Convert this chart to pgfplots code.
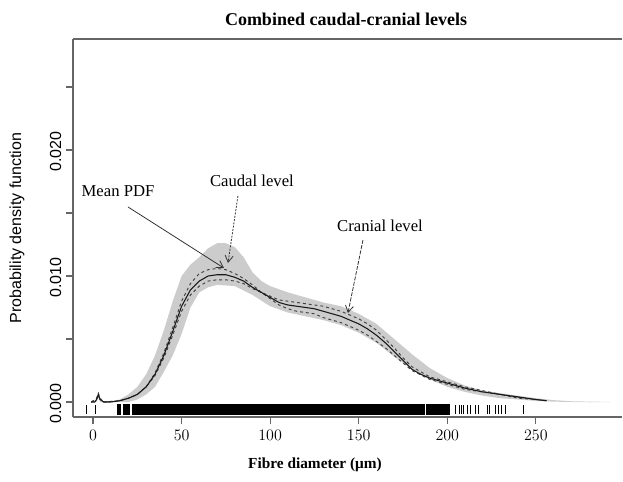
\documentclass[border=0pt]{standalone}
\usepackage{fontspec}
\setmainfont{Liberation Serif}
\newfontfamily\arial{Liberation Sans}
\usepackage{pgfplots}
\pgfplotsset{compat=1.18}
\usetikzlibrary{arrows.meta}
\definecolor{bandgray}{gray}{0.80}
\definecolor{axgray}{gray}{0.40}
\begin{document}
\begin{tikzpicture}
\path (0,0) rectangle (467.25pt,360.75pt);
\begin{axis}[
  at={(54.75pt,48pt)}, anchor=south west,
  scale only axis, width=412pt, height=283.5pt,
  xmin=-11.3, xmax=298.8, ymin=-0.00119, ymax=0.02881,
  axis x line=box, axis y line=left,
  axis line style={axgray, line width=0.8pt, -},
  tick style={axgray, line width=0.8pt},
  tick align=outside, major tick length=5.25pt,
  xtick pos=bottom, ytick pos=left,
  xtick={0,50,100,150,200,250},
  ytick={0,0.005,0.010,0.015,0.020,0.025},
  yticklabels={0.000,,0.010,,0.020,},
  scaled y ticks=false,
  ticklabel style={font=\arial\fontsize{12}{14}\selectfont},
  yticklabel style={rotate=90, anchor=south, xshift=-1pt},
  xticklabel style={yshift=-1pt},
  clip=false,
]
% band (upper then lower reversed)
\addplot[fill=bandgray, draw=none, forget plot] coordinates {
(-1,0) (2,0.0002) (3,0.0008) (4,0.0002) (6,0) (12,0.0001) (15,0.0002) (20,0.0006) (25,0.0012) (30,0.0022) (35,0.0037) (40,0.0057) (45,0.0080) (50,0.0100) (55,0.0109) (60,0.0115) (65,0.0122) (70,0.0126) (75,0.0126) (80,0.0123) (85,0.0115) (90,0.0103) (95,0.0096) (100,0.0092) (110,0.0087) (120,0.0083) (130,0.0079) (140,0.0076) (150,0.0070) (160,0.0062) (170,0.0050) (180,0.0038) (190,0.0027) (200,0.0019) (210,0.0013) (220,0.0009) (230,0.0007) (240,0.0005) (250,0.0003) (260,0.00015) (270,0.00006) (280,0.00003) (292,0.00001)
(292,-0.00001) (280,-0.00002) (270,0) (260,0.00003) (250,0.00008) (240,0.0002) (230,0.0003) (220,0.0005) (210,0.0008) (200,0.0012) (190,0.0018) (180,0.0026) (170,0.0036) (160,0.0047) (150,0.0055) (140,0.0061) (130,0.0065) (120,0.0068) (110,0.0071) (100,0.0076) (90,0.0085) (80,0.0092) (70,0.0093) (65,0.0091) (60,0.0087) (55,0.0075) (50,0.0054) (45,0.0037) (40,0.0024) (35,0.0012) (30,0.0006) (25,0.0002) (20,0) (6,0) (4,0) (3,0.0004) (2,0) (-1,0)} -- cycle;
% caudal (dashed)
\addplot[black!75, line width=0.7pt, dash pattern=on 2.2pt off 2.2pt] coordinates {
(-1,0) (2,0.0002) (3,0.0005) (4,0.0002) (6,0) (15,0.0001) (20,0.0003) (25,0.0006) (30,0.0012) (35,0.0023) (40,0.0039) (45,0.0059) (50,0.0080) (55,0.0094) (60,0.0102) (65,0.0105) (70,0.0106) (75,0.0105) (80,0.0102) (85,0.0098) (90,0.0093) (95,0.0087) (100,0.0082) (105,0.0077) (110,0.0074) (115,0.0072) (120,0.0071) (125,0.0070) (130,0.0067) (135,0.0065) (140,0.0063) (145,0.0060) (150,0.0057) (155,0.0053) (160,0.0048) (165,0.0043) (170,0.0037) (175,0.0031) (180,0.0025) (190,0.0018) (200,0.0014) (210,0.0010) (220,0.0008) (230,0.0006) (240,0.0003) (250,0.0002) (256,0.0001)};
% cranial (dashed)
\addplot[black!75, line width=0.7pt, dash pattern=on 2.2pt off 2.2pt] coordinates {
(-1,0) (2,0.0003) (3,0.0007) (4,0.0003) (6,0) (15,0.0001) (20,0.0003) (25,0.0006) (30,0.0012) (35,0.0021) (40,0.0035) (45,0.0053) (50,0.0072) (55,0.0085) (60,0.0092) (65,0.0096) (70,0.0097) (75,0.0097) (80,0.0096) (85,0.0094) (90,0.0090) (95,0.0087) (100,0.0084) (105,0.0081) (110,0.0080) (115,0.0079) (120,0.0078) (125,0.0077) (130,0.0076) (135,0.0074) (140,0.0072) (145,0.0069) (150,0.0066) (155,0.0062) (160,0.0057) (165,0.0050) (170,0.0043) (175,0.0035) (180,0.0028) (190,0.0020) (200,0.0016) (210,0.0012) (220,0.0009) (230,0.0006) (240,0.0004) (250,0.0002) (256,0.0001)};
% mean (solid)
\addplot[black!90, line width=0.8pt] coordinates {
(-1,0) (1,0) (2,0.0002) (3,0.0006) (4,0.0002) (5,0.0001) (6,0) (10,0) (15,0.0001) (20,0.0003) (25,0.0006) (30,0.0012) (35,0.0022) (40,0.0037) (45,0.0056) (50,0.0076) (55,0.0089) (60,0.0096) (65,0.0100) (70,0.0101) (75,0.0101) (80,0.0099) (85,0.0096) (90,0.0091) (95,0.0087) (100,0.0083) (105,0.0079) (110,0.0077) (115,0.0076) (120,0.0075) (125,0.0074) (130,0.0072) (135,0.0070) (140,0.0068) (145,0.0065) (150,0.0062) (155,0.0058) (160,0.0053) (165,0.0047) (170,0.0040) (175,0.0033) (180,0.0026) (185,0.0022) (190,0.0019) (200,0.0015) (210,0.0011) (220,0.0008) (230,0.0006) (240,0.0004) (250,0.0002) (256,0.0001)};
% rug: dense blocks
\addplot[fill=black, draw=none] coordinates {(13.4,-0.00016) (15.9,-0.00016) (15.9,-0.00103) (13.4,-0.00103)} -- cycle;
\addplot[fill=black, draw=none] coordinates {(16.8,-0.00016) (20.9,-0.00016) (20.9,-0.00103) (16.8,-0.00103)} -- cycle;
\addplot[fill=black, draw=none] coordinates {(21.8,-0.00016) (187.4,-0.00016) (187.4,-0.00103) (21.8,-0.00103)} -- cycle;
\addplot[fill=black, draw=none] coordinates {(188.2,-0.00016) (201.5,-0.00016) (201.5,-0.00103) (188.2,-0.00103)} -- cycle;
% rug: isolated ticks
\addplot[only marks, mark=|, mark size=3.3pt, mark options={black, line width=0.6pt}] coordinates {
(-3.6,-0.000595) (1.5,-0.000595) (204.3,-0.000595) (207.1,-0.000595) (208,-0.000595) (209,-0.000595) (211.3,-0.000595) (213.2,-0.000595) (215.6,-0.000595) (217.5,-0.000595) (222.5,-0.000595) (224,-0.000595) (226.9,-0.000595) (228.8,-0.000595) (230.7,-0.000595) (233,-0.000595) (243.2,-0.000595)};
% annotations
\node[font=\fontsize{12.5}{14}\selectfont] at (axis cs:14.1,0.01675) {Mean PDF};
\node[font=\fontsize{12.5}{14}\selectfont] at (axis cs:89.7,0.01754) {Caudal level};
\node[font=\fontsize{12.5}{14}\selectfont] at (axis cs:162,0.01397) {Cranial level};
\draw[black!80, line width=0.6pt, -{Straight Barb[length=5pt,width=6pt]}] (axis cs:19.75,0.01548) -- (axis cs:73.9,0.01063);
\draw[black!80, line width=0.6pt, dash pattern=on 1.5pt off 1pt, -{Straight Barb[length=5pt,width=6pt]}] (axis cs:81.8,0.01635) -- (axis cs:76.2,0.01103);
\draw[black!80, line width=0.6pt, dash pattern=on 3pt off 1pt, -{Straight Barb[length=5pt,width=6pt]}] (axis cs:152.4,0.01286) -- (axis cs:143.9,0.00706);
\end{axis}
\node[font=\bfseries\fontsize{13.5}{15}\selectfont] at (259.5pt,346.5pt) {Combined caudal-cranial levels};
\node[font=\bfseries\fontsize{11.5}{13}\selectfont] at (236.25pt,12pt) {Fibre diameter (μm)};
\node[font=\arial\fontsize{12}{14}\selectfont, rotate=90] at (12.75pt,189.75pt) {Probability density function};
\end{tikzpicture}
\end{document}
